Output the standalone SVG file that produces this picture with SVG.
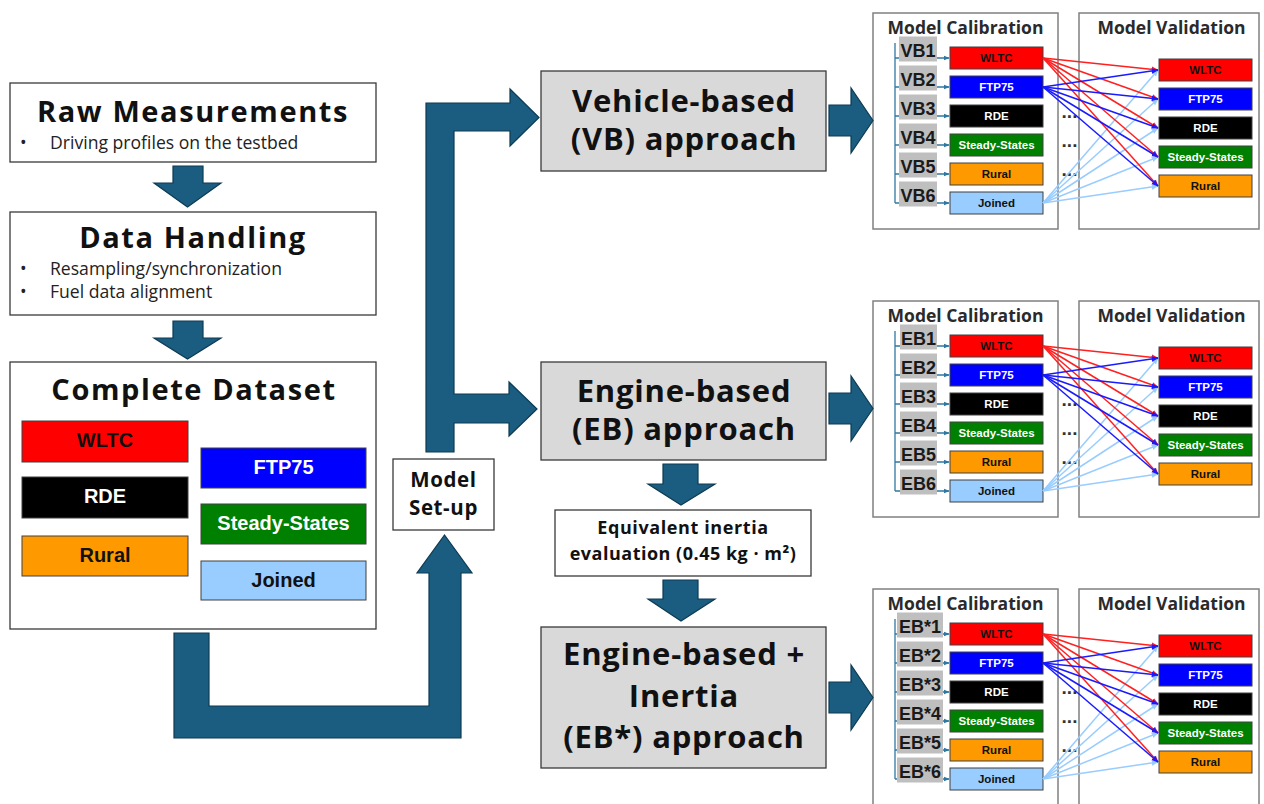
<svg xmlns="http://www.w3.org/2000/svg" width="1264" height="804" viewBox="0 0 1264 804">
  <defs>
    <style>
      .box { fill: #ffffff; stroke: #3a3a3a; stroke-width: 1.3; }
      .gbox { fill: #d9d9d9; stroke: #3a3a3a; stroke-width: 1.3; }
      .panel { fill: #ffffff; stroke: #808080; stroke-width: 1.5; }
      .big { fill: #1b5d80; stroke: #0d3a52; stroke-width: 1.2; stroke-linejoin: miter; }
      .t { font-family: "Open Sans", "Liberation Sans", sans-serif; font-weight: 700; fill: #111111; text-anchor: middle; }
      .h1 { font-size: 29px; letter-spacing: 1.6px; }
      .h2 { font-size: 31px; letter-spacing: 0.8px; }
      .b { font-family: "Open Sans", "Liberation Sans", sans-serif; font-weight: 400; fill: #222222; font-size: 17.6px; }
      .tag { font-family: "Liberation Sans", Arial, sans-serif; font-weight: 700; text-anchor: middle; }
      .k { fill: #111111; }
      .w { fill: #ffffff; }
      .c-wltc { fill: #ff0000; stroke: #404040; stroke-width: 1; }
      .c-ftp { fill: #0000ff; stroke: #404040; stroke-width: 1; }
      .c-rde { fill: #000000; stroke: #404040; stroke-width: 1; }
      .c-ss { fill: #008000; stroke: #404040; stroke-width: 1; }
      .c-rur { fill: #ff9900; stroke: #404040; stroke-width: 1; }
      .c-join { fill: #99ccff; stroke: #404040; stroke-width: 1; }
      .pt { font-family: "Open Sans", "Liberation Sans", sans-serif; font-weight: 700; font-size: 17.5px; fill: #2a2a2a; text-anchor: middle; }
      .lab { fill: #bfbfbf; }
      .labt { font-family: "Liberation Sans", Arial, sans-serif; font-weight: 700; font-size: 18px; fill: #1a1a1a; text-anchor: middle; }
      .st { font-size: 11.5px; }
      .brk { fill: none; stroke: #2f77a0; stroke-width: 1.3; }
      .dots { font-family: "Liberation Sans", Arial, sans-serif; font-weight: 700; font-size: 19px; fill: #333333; text-anchor: middle; }
      .fr { fill: none; stroke: #ff2020; stroke-width: 1.5; }
      .fb { fill: none; stroke: #1a1aff; stroke-width: 1.5; }
      .fl { fill: none; stroke: #99ccff; stroke-width: 1.5; }
    </style>
    <marker id="mt" viewBox="0 0 10 10" refX="9" refY="5" markerWidth="6" markerHeight="6" markerUnits="userSpaceOnUse" orient="auto">
      <path d="M0,1 L10,5 L0,9 Z" fill="#2f77a0"/>
    </marker>
    <marker id="mr" viewBox="0 0 10 10" refX="9" refY="5" markerWidth="7" markerHeight="7" markerUnits="userSpaceOnUse" orient="auto">
      <path d="M0,1 L10,5 L0,9 Z" fill="#ff2020"/>
    </marker>
    <marker id="mb" viewBox="0 0 10 10" refX="9" refY="5" markerWidth="7" markerHeight="7" markerUnits="userSpaceOnUse" orient="auto">
      <path d="M0,1 L10,5 L0,9 Z" fill="#1a1aff"/>
    </marker>
    <marker id="ml" viewBox="0 0 10 10" refX="9" refY="5" markerWidth="7" markerHeight="7" markerUnits="userSpaceOnUse" orient="auto">
      <path d="M0,1 L10,5 L0,9 Z" fill="#99ccff"/>
    </marker>

    <!-- one calibration / validation panel, reused for the three approaches -->
    <g id="panelBody">
      <rect class="panel" x="873" y="13" width="185" height="216"/>
      <text class="pt" x="965.5" y="34">Model Calibration</text>
      <rect class="panel" x="1079" y="13" width="180" height="216"/>
      <text class="pt" x="1171.5" y="34">Model Validation</text>
      <!-- bracket feeding the calibration sets -->
      <path class="brk" d="M895,43 V203"/>
      <path class="brk" marker-end="url(#mt)" d="M895,58 H949"/>
      <path class="brk" marker-end="url(#mt)" d="M895,87 H949"/>
      <path class="brk" marker-end="url(#mt)" d="M895,116 H949"/>
      <path class="brk" marker-end="url(#mt)" d="M895,145 H949"/>
      <path class="brk" marker-end="url(#mt)" d="M895,174 H949"/>
      <path class="brk" marker-end="url(#mt)" d="M895,203 H949"/>
      <!-- calibration data sets -->
      <rect class="c-wltc" x="950" y="47" width="93" height="22"/>
      <text class="tag k st" x="996.5" y="62">WLTC</text>
      <rect class="c-ftp" x="950" y="76" width="93" height="22"/>
      <text class="tag w st" x="996.5" y="91">FTP75</text>
      <rect class="c-rde" x="950" y="105" width="93" height="22"/>
      <text class="tag w st" x="996.5" y="120">RDE</text>
      <rect class="c-ss" x="950" y="134" width="93" height="22"/>
      <text class="tag w st" x="996.5" y="149">Steady-States</text>
      <rect class="c-rur" x="950" y="163" width="93" height="22"/>
      <text class="tag k st" x="996.5" y="178">Rural</text>
      <rect class="c-join" x="950" y="192" width="93" height="22"/>
      <text class="tag k st" x="996.5" y="207">Joined</text>
      <!-- validation data sets -->
      <rect class="c-wltc" x="1159" y="59" width="93" height="22"/>
      <text class="tag k st" x="1205.5" y="74">WLTC</text>
      <rect class="c-ftp" x="1159" y="88" width="93" height="22"/>
      <text class="tag w st" x="1205.5" y="103">FTP75</text>
      <rect class="c-rde" x="1159" y="117" width="93" height="22"/>
      <text class="tag w st" x="1205.5" y="132">RDE</text>
      <rect class="c-ss" x="1159" y="146" width="93" height="22"/>
      <text class="tag w st" x="1205.5" y="161">Steady-States</text>
      <rect class="c-rur" x="1159" y="175" width="93" height="22"/>
      <text class="tag k st" x="1205.5" y="190">Rural</text>
      <text class="dots" x="1069.5" y="118">...</text>
      <text class="dots" x="1069.5" y="147">...</text>
      <text class="dots" x="1069.5" y="176">...</text>
    </g>

    <!-- calibration-to-validation fan -->
    <g id="fan">
      <path class="fl" marker-end="url(#ml)" d="M1043,203 L1158,70"/>
      <path class="fl" marker-end="url(#ml)" d="M1043,203 L1158,99"/>
      <path class="fl" marker-end="url(#ml)" d="M1043,203 L1158,128"/>
      <path class="fl" marker-end="url(#ml)" d="M1043,203 L1158,157"/>
      <path class="fl" marker-end="url(#ml)" d="M1043,203 L1158,186"/>
      <path class="fr" marker-end="url(#mr)" d="M1043,58 L1158,70"/>
      <path class="fr" marker-end="url(#mr)" d="M1043,58 L1158,99"/>
      <path class="fr" marker-end="url(#mr)" d="M1043,58 L1158,128"/>
      <path class="fr" marker-end="url(#mr)" d="M1043,58 L1158,157"/>
      <path class="fr" marker-end="url(#mr)" d="M1043,58 L1158,186"/>
      <path class="fb" marker-end="url(#mb)" d="M1043,87 L1158,70"/>
      <path class="fb" marker-end="url(#mb)" d="M1043,87 L1158,99"/>
      <path class="fb" marker-end="url(#mb)" d="M1043,87 L1158,128"/>
      <path class="fb" marker-end="url(#mb)" d="M1043,87 L1158,157"/>
      <path class="fb" marker-end="url(#mb)" d="M1043,87 L1158,186"/>
    </g>
  </defs>

  <rect x="0" y="0" width="1264" height="804" fill="#ffffff"/>

  <g id="raw-measurements">
    <rect class="box" x="10" y="83" width="366" height="79"/>
    <text class="t h1" x="193" y="122">Raw Measurements</text>
    <text class="b" x="20" y="149">•</text>
    <text class="b" x="50" y="149">Driving profiles on the testbed</text>
  </g>

  <g id="data-handling">
    <rect class="box" x="10" y="212" width="366" height="103"/>
    <text class="t h1" x="193" y="248">Data Handling</text>
    <text class="b" x="20" y="275">•</text>
    <text class="b" x="50" y="275">Resampling/synchronization</text>
    <text class="b" x="20" y="298">•</text>
    <text class="b" x="50" y="298">Fuel data alignment</text>
  </g>

  <g id="complete-dataset">
    <rect class="box" x="10" y="362" width="366" height="267"/>
    <text class="t h1" x="194" y="400">Complete Dataset</text>
    <rect class="c-wltc" x="22" y="421" width="166" height="41"/>
    <text class="tag k" x="105" y="447" font-size="20">WLTC</text>
    <rect class="c-rde" x="22" y="477" width="166" height="41"/>
    <text class="tag w" x="105" y="503" font-size="20">RDE</text>
    <rect class="c-rur" x="22" y="536" width="166" height="40"/>
    <text class="tag k" x="105" y="562" font-size="20">Rural</text>
    <rect class="c-ftp" x="201" y="448" width="165" height="40"/>
    <text class="tag w" x="283.5" y="474" font-size="20">FTP75</text>
    <rect class="c-ss" x="201" y="504" width="165" height="40"/>
    <text class="tag w" x="283.5" y="530" font-size="20">Steady-States</text>
    <rect class="c-join" x="201" y="561" width="165" height="39"/>
    <text class="tag k" x="283.5" y="587" font-size="20">Joined</text>
  </g>

  <g id="model-setup">
    <rect class="box" x="393" y="459" width="101" height="71"/>
    <text class="t" x="443.5" y="487" font-size="20.5" letter-spacing="0.6">Model</text>
    <text class="t" x="443.5" y="515" font-size="20.5" letter-spacing="0.6">Set-up</text>
  </g>

  <g id="vb-approach">
    <rect class="gbox" x="541" y="71" width="285" height="100"/>
    <text class="t h2" x="684" y="112">Vehicle-based</text>
    <text class="t h2" x="684" y="150">(VB) approach</text>
  </g>

  <g id="eb-approach">
    <rect class="gbox" x="541" y="362" width="285" height="98"/>
    <text class="t h2" x="684" y="402">Engine-based</text>
    <text class="t h2" x="684" y="440">(EB) approach</text>
  </g>

  <g id="inertia-evaluation">
    <rect class="box" x="555" y="510" width="256" height="66"/>
    <text class="t" x="683" y="534" font-size="18" letter-spacing="0.6">Equivalent inertia</text>
    <text class="t" x="683" y="560" font-size="18" letter-spacing="0.5">evaluation (0.45 kg · m²)</text>
  </g>

  <g id="ebs-approach">
    <rect class="gbox" x="541" y="627" width="285" height="141"/>
    <text class="t h2" x="684" y="665">Engine-based +</text>
    <text class="t h2" x="684" y="707">Inertia</text>
    <text class="t h2" x="684" y="748">(EB*) approach</text>
  </g>

  <g id="vb-panel">
    <use href="#panelBody"/>
    <rect class="lab" x="899" y="36.5" width="38" height="25"/>
    <text class="labt" x="918" y="57">VB1</text>
    <rect class="lab" x="899" y="65.5" width="38" height="25"/>
    <text class="labt" x="918" y="86">VB2</text>
    <rect class="lab" x="899" y="94.5" width="38" height="25"/>
    <text class="labt" x="918" y="115">VB3</text>
    <rect class="lab" x="899" y="123.5" width="38" height="25"/>
    <text class="labt" x="918" y="144">VB4</text>
    <rect class="lab" x="899" y="152.5" width="38" height="25"/>
    <text class="labt" x="918" y="173">VB5</text>
    <rect class="lab" x="899" y="181.5" width="38" height="25"/>
    <text class="labt" x="918" y="202">VB6</text>
  </g>

  <g id="eb-panel" transform="translate(0,288)">
    <use href="#panelBody"/>
    <rect class="lab" x="900" y="36.5" width="37" height="25"/>
    <text class="labt" x="918.5" y="57">EB1</text>
    <rect class="lab" x="900" y="65.5" width="37" height="25"/>
    <text class="labt" x="918.5" y="86">EB2</text>
    <rect class="lab" x="900" y="94.5" width="37" height="25"/>
    <text class="labt" x="918.5" y="115">EB3</text>
    <rect class="lab" x="900" y="123.5" width="37" height="25"/>
    <text class="labt" x="918.5" y="144">EB4</text>
    <rect class="lab" x="900" y="152.5" width="37" height="25"/>
    <text class="labt" x="918.5" y="173">EB5</text>
    <rect class="lab" x="900" y="181.5" width="37" height="25"/>
    <text class="labt" x="918.5" y="202">EB6</text>
  </g>

  <g id="ebs-panel" transform="translate(0,576)">
    <use href="#panelBody"/>
    <rect class="lab" x="897" y="36.5" width="46" height="25"/>
    <text class="labt" x="920" y="57">EB*1</text>
    <rect class="lab" x="897" y="65.5" width="46" height="25"/>
    <text class="labt" x="920" y="86">EB*2</text>
    <rect class="lab" x="897" y="94.5" width="46" height="25"/>
    <text class="labt" x="920" y="115">EB*3</text>
    <rect class="lab" x="897" y="123.5" width="46" height="25"/>
    <text class="labt" x="920" y="144">EB*4</text>
    <rect class="lab" x="897" y="152.5" width="46" height="25"/>
    <text class="labt" x="920" y="173">EB*5</text>
    <rect class="lab" x="897" y="181.5" width="46" height="25"/>
    <text class="labt" x="920" y="202">EB*6</text>
  </g>

  <!-- block arrows and connectors, drawn over the boxes -->
  <g id="connectors">
    <path class="big" d="M173,166 H203 V183 H221 L187.5,207 L154,183 H173 Z"/>
    <path class="big" d="M173,321 H203 V338 H221 L187.5,359 L154,338 H173 Z"/>
    <path class="big" d="M174,633 H209 V706 H429 V573 H417 L444.5,535 L472,573 H461 V738 H174 Z"/>
    <path class="big" d="M426,452 V103 H510 V89 L539,117.5 L510,146 V131 H454 V394 H509 V382 L537,409 L509,436 V423 H454 V452 Z"/>
    <path class="big" d="M663,464 H698 V484 H715 L681,505 L648,484 H663 Z"/>
    <path class="big" d="M663,580 H698 V599 H715 L681,621 L648,599 H663 Z"/>
    <path class="big" d="M829,105 H851 V88 L873,120.5 L851,153 V136 H829 Z"/>
    <path class="big" d="M829,393 H851 V376 L873,408.5 L851,441 V424 H829 Z"/>
    <path class="big" d="M829,682 H851 V665 L873,697.5 L851,730 V713 H829 Z"/>
    <use href="#fan"/>
    <use href="#fan" transform="translate(0,288)"/>
    <use href="#fan" transform="translate(0,576)"/>
  </g>
</svg>
